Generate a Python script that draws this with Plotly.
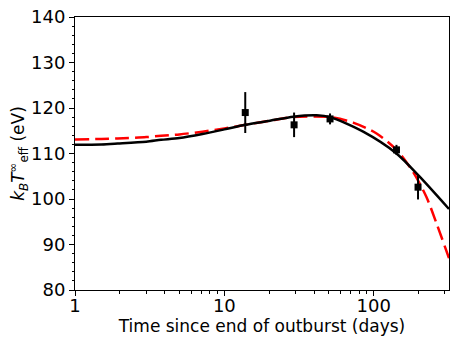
import plotly.graph_objects as go

# observed temperatures (days since end of outburst, eV)
obs_days = [13.8, 29.3, 51.0, 142.0, 198.0]
obs_kt = [119.0, 116.3, 117.6, 110.8, 102.6]
obs_err = [4.5, 2.7, 1.2, 1.1, 2.7]

# model 1 (solid black)
model1_days = [1.0, 1.5, 1.93, 3.0, 3.77, 5.0, 7.14, 10.0, 13.8, 20.2, 29.0, 41.5, 51.0,
               85.0, 142.0, 203.0, 319.0]
model1_kt = [111.9, 112.0, 112.2, 112.6, 113.0, 113.4, 114.3, 115.3, 116.3, 117.2, 118.1, 118.4, 118.0,
             114.8, 110.0, 104.9, 97.8]

# model 2 (dashed red)
model2_days = [1.0, 1.5, 1.93, 3.0, 3.77, 5.0, 7.14, 10.0, 13.8, 20.2, 29.0, 51.0, 72.8, 104.5,
               142.0, 183.0, 225.0, 263.0, 319.0]
model2_kt = [113.1, 113.2, 113.3, 113.6, 113.9, 114.2, 114.8, 115.5, 116.3, 117.2, 118.0, 118.0, 116.8, 114.4,
             110.8, 106.0, 100.5, 94.7, 87.0]

x_major = [1, 10, 100]
x_minor = [2, 3, 4, 5, 6, 7, 8, 9, 20, 30, 40, 50, 60, 70, 80, 90, 200, 300]
y_major = [80, 90, 100, 110, 120, 130, 140]

FONT = "DejaVu Sans"

fig = go.Figure()

fig.add_trace(go.Scatter(
    x=model2_days, y=model2_kt, mode="lines",
    line=dict(color="red", width=2.5, dash="14px,6px", shape="spline", smoothing=0.8),
))
fig.add_trace(go.Scatter(
    x=model1_days, y=model1_kt, mode="lines",
    line=dict(color="black", width=2.5, shape="spline", smoothing=0.8),
))
fig.add_trace(go.Scatter(
    x=obs_days, y=obs_kt, mode="markers",
    marker=dict(symbol="square", size=7, color="black"),
    error_y=dict(type="data", array=obs_err, color="black", thickness=2, width=0),
))

fig.update_layout(
    width=463, height=347,
    margin=dict(l=75, r=14, t=17, b=57),
    paper_bgcolor="white", plot_bgcolor="white",
    showlegend=False,
    font=dict(family=FONT, size=17, color="black"),
)

fig.update_xaxes(
    type="log", range=[0, 2.504], automargin=False,
    tickvals=x_major, ticktext=[str(v) for v in x_major],
    tickfont=dict(family=FONT, size=18), ticklabelstandoff=-6,
    ticks="outside", ticklen=5, tickwidth=1, tickcolor="black",
    minor=dict(tickvals=x_minor, ticks="outside", ticklen=2.5, tickcolor="black"),
    showgrid=False, zeroline=False,
    showline=True, linecolor="black", linewidth=1, mirror=True,
    title=dict(text="Time since end of outburst (days)", standoff=0,
               font=dict(family=FONT, size=17)),
)

fig.update_yaxes(
    range=[80, 140], tickvals=y_major, automargin=False,
    tickfont=dict(family=FONT, size=18),
    ticks="outside", ticklen=5, tickwidth=1, tickcolor="black",
    minor=dict(dtick=2, ticks="outside", ticklen=2.5, tickcolor="black"),
    showgrid=False, zeroline=False,
    showline=True, linecolor="black", linewidth=1, mirror=True,
    title=dict(text="<i>k</i><sub><i>B</i></sub><i>T</i><sup>∞</sup><sub>eff</sub> (eV)",
               standoff=1, font=dict(family=FONT, size=17)),
)

# drop the default 8px body margin so the figure fills the window
fig.write_html("out.html", config={"displayModeBar": False},
               post_script="document.body.style.margin = '0';")
